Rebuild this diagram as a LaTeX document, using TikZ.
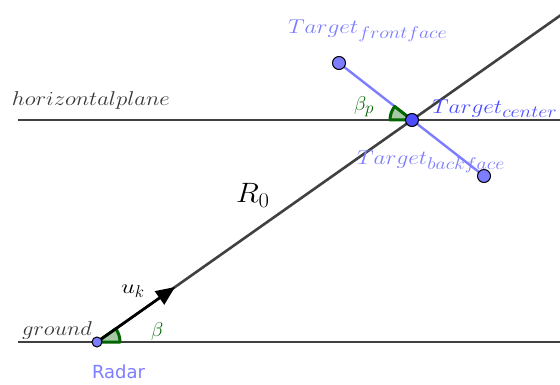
\RequirePackage{fix-cm}
\documentclass[tikz,border=0pt]{standalone}
\usepackage{fontspec}
\newfontfamily\radarfont{DejaVu Sans}
\usetikzlibrary{arrows.meta,calc}
\DeclareMathSizes{20}{20}{17}{12}
\DeclareMathSizes{28}{28}{21}{15}
\definecolor{lineg}{RGB}{64,64,64}
\definecolor{txtg}{RGB}{55,55,55}
\definecolor{ptblue}{RGB}{125,125,255}
\definecolor{cblue}{RGB}{77,77,255}
\definecolor{angg}{RGB}{0,100,0}
\newcommand\hs[2]{\scalebox{#1}[1]{#2}}
\tikzset{
  gline/.style={draw=lineg, line width=2.6pt},
  tline/.style={draw=ptblue, line width=2.4pt},
  wedgemark/.style={draw=angg, fill=angg!35, line width=3pt, line join=round},
  ukarrow/.style={draw=black, line width=2.6pt, -{Triangle[length=19pt,width=16pt]}},
  pt/.style={circle, draw=black, line width=1pt, inner sep=0pt, minimum size=#1},
  lbl/.style={anchor=base west, inner sep=0pt, outer sep=0pt},
  f20/.style={font=\fontsize{20}{22}\selectfont},
  f28/.style={font=\fontsize{28}{30}\selectfont},
}
\begin{document}
\begin{tikzpicture}[x=1pt,y=-1pt]
\useasboundingbox (0,0) rectangle (560,385);
% coordinates
\coordinate (radar) at (97,342);
\coordinate (ctr) at (412,120);
\coordinate (front) at (339,63);
\coordinate (back) at (484,176);
\coordinate (gL) at (18,342);
\coordinate (gR) at (580,342);
\coordinate (hL) at (18,120);
\coordinate (hR) at (580,120);
\coordinate (lend) at ($(radar)!1.6!(ctr)$);
\coordinate (uktip) at ($(radar)!0.2476!(ctr)$);
% lines
\draw[gline] (gL) -- (gR);
\draw[gline] (hL) -- (hR);
\draw[gline] (radar) -- (lend);
\draw[tline] (front) -- (back);
% angle marks
\draw[wedgemark] (radar) -- ++(23,0) arc[start angle=0, end angle=-35.2, radius=23] -- cycle;
\draw[wedgemark] (ctr) -- ++(-22,0) arc[start angle=180, end angle=218, radius=22] -- cycle;
% vector
\draw[ukarrow] (radar) -- (uktip);
% points
\node[pt=10pt, fill=ptblue] (radarpt) at (radar) {};
\node[pt=13pt, fill=cblue] (ctrpt) at (ctr) {};
\node[pt=13pt, fill=ptblue] (frontpt) at (front) {};
\node[pt=13pt, fill=ptblue] (backpt) at (back) {};
% labels
\node[lbl, f20, text=txtg] (hplab) at (12,106) {\hs{1.14}{$horizontalplane$}};
\node[lbl, f20, text=txtg] (glab) at (22,335) {\hs{1.13}{$ground$}};
\node[lbl, f20, text=ptblue] (tflab) at (288,34) {\hs{1.17}{$Target_{frontface}$}};
\node[lbl, f20, text=cblue] (tclab) at (432,114) {\hs{1.17}{$Target_{center}$}};
\node[lbl, f20, text=ptblue] (tblab) at (357,165) {\hs{1.17}{$Target_{backface}$}};
\node[lbl, f20, text=angg] (bplab) at (354,111) {$\beta_p$};
\node[lbl, f20, text=angg] (blab) at (151,336) {$\beta$};
\node[lbl, f28] (rlab) at (236,203) {\hs{1.08}{$R_0$}};
\node[lbl, f20] (uklab) at (121,293) {$\hs{1.25}{$u$}_k$};
\node[lbl, text=ptblue, font=\radarfont\fontsize{18}{20}\selectfont] (radarlab) at (92,378) {Radar};
\end{tikzpicture}
\end{document}
